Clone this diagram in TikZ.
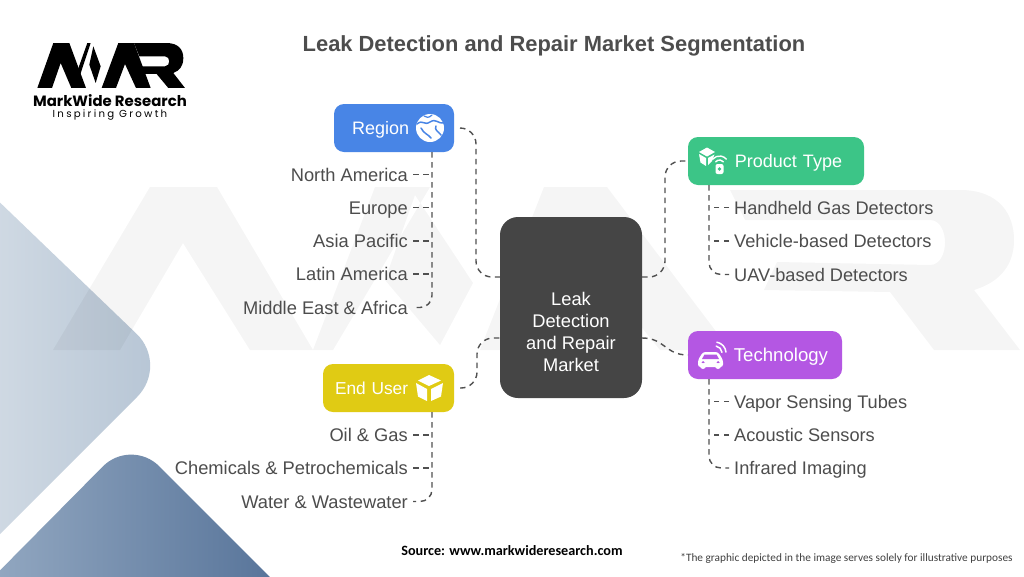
\documentclass[tikz,border=0pt]{standalone}
\usepackage{fontspec}
\setmainfont{Liberation Sans}
\newfontfamily\popf{Poppins}
\newfontfamily\popls[LetterSpace=22]{Poppins}
\newfontfamily\carf{Carlito}
\definecolor{ink}{HTML}{4D4D4D}
\definecolor{dashc}{HTML}{505050}
\definecolor{regc}{HTML}{4885E6}
\definecolor{proc}{HTML}{3CC587}
\definecolor{tecc}{HTML}{B457E3}
\definecolor{endc}{HTML}{E0CB14}
\definecolor{cenc}{HTML}{454545}
\definecolor{lia}{HTML}{D8E0E8}
\definecolor{lib}{HTML}{B5C4D4}
\definecolor{daa}{HTML}{9DB1C8}
\definecolor{dab}{HTML}{4C6A92}
\tikzset{
  hdr/.style={rectangle,rounded corners=10pt,minimum height=48pt,text=white,text height=15pt,text depth=2pt,inner ysep=0pt,outer sep=0pt,font=\fontsize{18}{22}\selectfont},
  leafl/.style={anchor=east,inner sep=0pt,text=ink,text height=15pt,text depth=2pt,font=\fontsize{18.3}{22}\selectfont},
  leafr/.style={anchor=west,inner sep=0pt,text=ink,text height=15pt,text depth=2pt,font=\fontsize{18.2}{22}\selectfont},
  link/.style={draw=dashc,line width=1.4pt,dash pattern=on 5.5pt off 4.5pt},
  icon/.style={fill=white,draw=none}
}
\begin{document}
\begin{tikzpicture}[x=1pt,y=-1pt]
\useasboundingbox (0,0) rectangle (1024,576);
\clip (0,0) rectangle (1024,576);
\fill[white] (0,0) rectangle (1024,576);
% background shapes
\shade[left color=lia,right color=lib] [rounded corners=45pt] (-62,143) -- (169,365) -- (-62,596) -- cycle;
\shade[left color=daa,right color=dab] [rounded corners=40pt] (-60,631) -- (131,438) -- (331,638) -- cycle;
% watermark
\fill[black,opacity=.04,even odd rule]
  (53,350) -- (150,187) -- (217,187) -- (313,350) -- (250,350) -- (183,243) -- (120,350) -- cycle
  (333,350) -- (313,350) -- (375,187) -- (430,187) -- cycle
  (415,195) -- (473,283) -- (440,345) -- (385,280) -- cycle
  (480,350) -- (544,187) -- (607,187) -- (730,350) -- (660,350) -- (575,245) -- (540,350) -- cycle
  (730,190) -- (960,190) .. controls (1000,190) and (1014,215) .. (1014,240) .. controls (1014,265) and (1000,282) .. (974,290) -- (1020,350) -- (934,350) -- (890,292) -- (764,290) -- (777,262) -- (930,265) .. controls (950,265) and (950,220) .. (930,220) -- (745,220) -- cycle;
% central node
\node[rectangle,rounded corners=18pt,fill=cenc,minimum width=142pt,minimum height=181pt,text=white,align=center,inner sep=0pt,outer sep=0pt,font=\fontsize{18.3}{22}\selectfont] (center) at (571,307.5) {\mbox{}\\[41pt]Leak\\Detection\\and Repair\\Market};
% headers
\node[hdr,fill=regc,minimum width=120pt,text width=84pt,inner xsep=18pt,align=left] (region) at (394,128) {Region};
\node[hdr,fill=proc,minimum width=176pt,text width=132pt,inner xsep=22pt,align=right] (product) at (776,161) {Product Type};
\node[hdr,fill=tecc,minimum width=154pt,text width=126pt,inner xsep=14pt,align=right,font=\fontsize{18.6}{22}\selectfont] (tech) at (765,355) {Technology};
\node[hdr,fill=endc,minimum width=131pt,text width=107pt,inner xsep=12pt,align=left,font=\fontsize{17.3}{22}\selectfont] (enduser) at (388.5,388) {End User};
% leaves
\node[leafl] (l1) at (408,174.5) {North America};
\node[leafl] (l2) at (408,207.5) {Europe};
\node[leafl] (l3) at (408,241) {Asia Pacific};
\node[leafl] (l4) at (408,274) {Latin America};
\node[leafl] (l5) at (408,307.5) {Middle East \& Africa};
\node[leafr] (p1) at (734,207.5) {Handheld Gas Detectors};
\node[leafr] (p2) at (734,241) {Vehicle-based Detectors};
\node[leafr] (p3) at (734,274.5) {UAV-based Detectors};
\node[leafr] (t1) at (734,401.5) {Vapor Sensing Tubes};
\node[leafr] (t2) at (734,435) {Acoustic Sensors};
\node[leafr] (t3) at (734,468) {Infrared Imaging};
\node[leafl] (e1) at (408,435) {Oil \& Gas};
\node[leafl] (e2) at (408,468) {Chemicals \& Petrochemicals};
\node[leafl] (e3) at (408,501.5) {Water \& Wastewater};
% stems
\coordinate (rs) at (432,152);
\coordinate (ps) at (709,185);
\coordinate (ts) at (709,379);
\coordinate (es) at (432,412);
\coordinate (cnw) at (500,277);
\coordinate (cne) at (642,277);
\coordinate (csw) at (500,338);
\coordinate (cse) at (642,338);
% main links
\draw[link,rounded corners=16pt,shorten <=6pt] (region.east) -- (476,128) -- (476,277) -- (cnw);
\draw[link,rounded corners=16pt] (cne) -- (665,277) -- (665,161) -- (product.west);
\draw[link] (cse) .. controls (665,338) and (665,355) .. (tech.west);
\draw[link,rounded corners=16pt,shorten <=6pt] (enduser.east) -- (477,388) -- (477,338) -- (csw);
% branches
\foreach \n in {l1,l2,l3,l4} \draw[link,shorten <=5pt] (\n.east) -- (\n.east -| rs);
\draw[link,rounded corners=12pt,shorten >=5pt] (rs) |- (l5.east);
\foreach \n in {p1,p2} \draw[link,shorten <=5pt] (\n.west) -- (\n.west -| ps);
\draw[link,rounded corners=12pt,shorten >=5pt] (ps) |- (p3.west);
\foreach \n in {t1,t2} \draw[link,shorten <=5pt] (\n.west) -- (\n.west -| ts);
\draw[link,rounded corners=12pt,shorten >=5pt] (ts) |- (t3.west);
\foreach \n in {e1,e2} \draw[link,shorten <=5pt] (\n.east) -- (\n.east -| es);
\draw[link,rounded corners=12pt,shorten >=5pt] (es) |- (e3.east);
% globe icon
\fill[white] (430,128) circle (14pt);
\draw[regc,line width=1.5pt,line cap=round] (417,124) .. controls (423,119) and (424,126) .. (430,122) .. controls (436,118) and (438,124) .. (444,123);
\draw[regc,line width=1.5pt,line cap=round] (421,128) .. controls (424,134) and (428,134) .. (431,138);
\draw[regc,line width=1.5pt,line cap=round] (436,126) .. controls (434,130) and (438,131) .. (441,135);
\draw[regc,line width=1.2pt,line cap=round] (424,116) .. controls (426,118) and (429,118) .. (432,115);
% end user cube
\fill[icon] (429,375) -- (441,380.5) -- (429,386) -- (418,380.5) -- cycle;
\fill[icon] (416,383) -- (427,389) -- (427,401) -- (418,396.5) -- cycle;
\fill[icon] (443,383) -- (431,389) -- (431,401) -- (441,396.5) -- cycle;
% product icon
\fill[icon] (707,147.5) -- (715,152) -- (707,156.5) -- (699,152) -- cycle;
\fill[icon] (699,154) -- (706,158) -- (706,166) -- (700.5,162.5) -- cycle;
\fill[icon] (714.5,154.5) -- (708,158) -- (708,165) -- (712,161) -- cycle;
\draw[white,line width=1.4pt,line cap=round] (715.7,161.8) arc[start angle=140,end angle=40,radius=5pt];
\draw[white,line width=1.4pt,line cap=round] (712.6,159.2) arc[start angle=140,end angle=40,radius=9pt];
\fill[icon,rounded corners=2pt] (715.5,164) rectangle (723.5,174);
\fill[proc] (719.5,169) circle (1.8pt);
% car icon
\fill[icon,rounded corners=2.5pt] (698,367) -- (698,360) -- (703,352) -- (718,352) -- (723,360) -- (723,367) -- cycle;
\fill[tecc] (704.5,354.5) -- (716.5,354.5) -- (719,359) -- (702,359) -- cycle;
\fill[tecc] (703,362.5) circle (1.5pt) (718,362.5) circle (1.5pt);
\fill[icon] (703,366) circle (3pt) (718,366) circle (3pt);
\draw[white,line width=1.5pt,line cap=round] (716.2,346.1) arc[start angle=80,end angle=5,radius=7pt];
\draw[white,line width=1.5pt,line cap=round] (716.9,342.2) arc[start angle=80,end angle=5,radius=11pt];
% title and footers
\node[inner sep=0pt,text=ink,font=\fontsize{21.9}{24}\selectfont\bfseries] (title) at (554,46) {Leak Detection and Repair Market Segmentation};
\node[inner sep=0pt,text=black,font=\carf\fontsize{14.2}{16}\selectfont\bfseries] (src) at (512,551) {Source: www.markwideresearch.com};
\node[inner sep=0pt,text=black!75,font=\carf\fontsize{11.3}{14}\selectfont] (note) at (846.5,558) {*The graphic depicted in the image serves solely for illustrative purposes};
% logo
\begin{scope}[shift={(30,38)},x=.3333pt,y=-.3333pt]
\fill[black] (22,150) -- (70,15) -- (118,15) -- (168,150) -- (124,150) -- (92,75) -- (66,150) -- cycle;
\fill[black] (124,150) -- (172,15) -- (182,15) -- (148,118) -- cycle;
\fill[black] (190,25) -- (212,85) -- (197,135) -- (178,80) -- cycle;
\fill[black] (215,150) -- (265,15) -- (312,15) -- (362,150) -- (318,150) -- (285,78) -- (258,150) -- cycle;
\fill[black] (312,15) -- (410,15) .. controls (445,15) and (460,35) .. (460,60) .. controls (460,85) and (448,98) .. (430,105) -- (465,150) -- (415,150) -- (380,108) -- (345,108) -- (335,85) -- (405,85) .. controls (422,85) and (422,55) .. (405,55) -- (328,55) -- cycle;
\end{scope}
\node[inner sep=0pt,text=black,font=\popf\fontsize{14.9}{16}\selectfont\bfseries] (lg1) at (110,101) {MarkWide Research};
\node[inner sep=0pt,text=black,font=\popls\fontsize{10.2}{12}\selectfont] (lg2) at (110,115) {Inspiring Growth};
\end{tikzpicture}
\end{document}
